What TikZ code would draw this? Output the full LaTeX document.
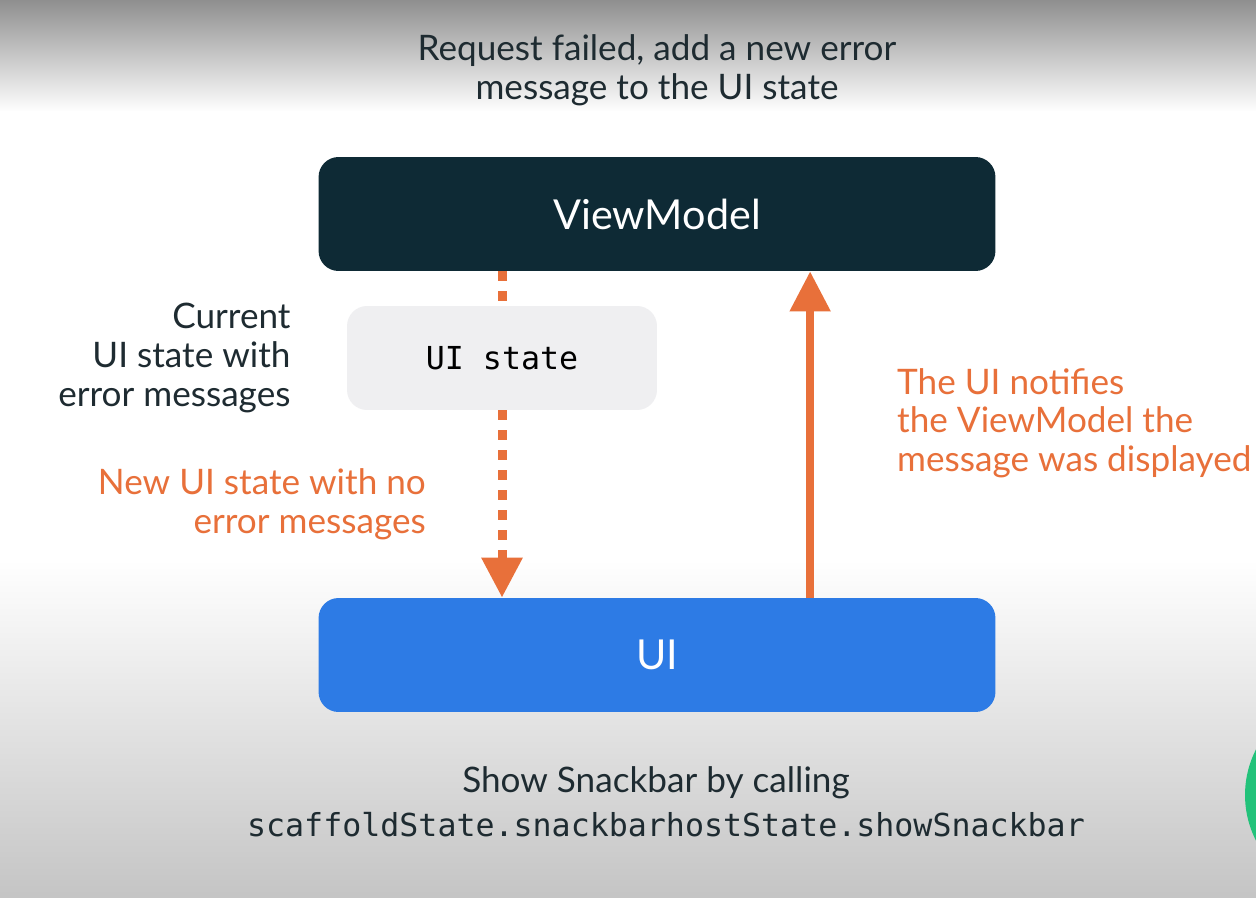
\documentclass[tikz,border=0pt]{standalone}
\usepackage{fontspec}
\setmainfont{Lato}
\setmonofont{DejaVu Sans Mono}
\usetikzlibrary{arrows.meta,positioning}
\definecolor{vmdark}{HTML}{0E2A35}
\definecolor{uiblue}{HTML}{2D7BE5}
\definecolor{stategray}{HTML}{EFEFF1}
\definecolor{flowor}{HTML}{E8703A}
\definecolor{txtdark}{HTML}{1E2B31}
\definecolor{snackgreen}{HTML}{22C27A}

\begin{document}
\begin{tikzpicture}[x=0.02cm,y=-0.02cm,>={Stealth},
  layer/.style={rounded corners=0.4cm,minimum width=13.54cm,minimum height=2.28cm,font=\fontsize{23.5}{28}\selectfont,text=white},
  statebox/.style={rounded corners=0.4cm,fill=stategray,minimum width=6.2cm,minimum height=2.08cm,font=\ttfamily\fontsize{18}{22}\selectfont},
  lbl/.style={font=\fontsize{20}{22}\selectfont,text=txtdark},
  flowlbl/.style={lbl,text=flowor},
  dotflow/.style={flowor,line width=0.18cm,dash pattern=on 0.2cm off 0.2cm},
  upflow/.style={flowor,line width=0.16cm}]
\useasboundingbox (0,0) rectangle (1256,898);
% background
\fill[top color=black!44,bottom color=white] (0,0) rectangle (1256,112);
\fill[white] (0,111) rectangle (1256,561);
\fill[top color=white,bottom color=black!23] (0,560) rectangle (1256,898);
\fill[snackgreen] (1345,795) circle (100);
% boxes
\node[layer,fill=vmdark] (vm) at (657,214) {ViewModel};
\node[layer,fill=uiblue] (ui) at (657,655) {UI};
\node[statebox] (us) at (502,358) {UI state};
% texts
\node[lbl,align=right,left=1.0cm of us] (cur) {Current\\UI state with\\error messages};
\node[lbl,align=center] (req) at (657,70) {Request failed, add a new error\\message to the UI state};
\node[flowlbl,align=right,anchor=east] (nostate) at (432,504) {New UI state with no\\error messages};
\node[flowlbl,align=left,anchor=west] (notify) at (891,423) {The UI notifies\\the ViewModel the\\message was displayed};
\node[lbl] (show) at (656,783) {Show Snackbar by calling};
\node[lbl,font=\ttfamily\fontsize{18}{22}\selectfont] (call) at (666,825) {scaffoldState.snackbarhostState.showSnackbar};
% arrows
\draw[dotflow] (us.north |- vm.south) -- (us.north);
\draw[dotflow,-{Triangle[length=0.8cm,width=0.78cm]}] (us.south) -- (us.south |- ui.north);
\draw[upflow,-{Triangle[length=0.8cm,width=0.78cm]}] ([xshift=9.84cm]ui.north west) -- ([xshift=9.84cm]vm.south west);
\end{tikzpicture}
\end{document}
